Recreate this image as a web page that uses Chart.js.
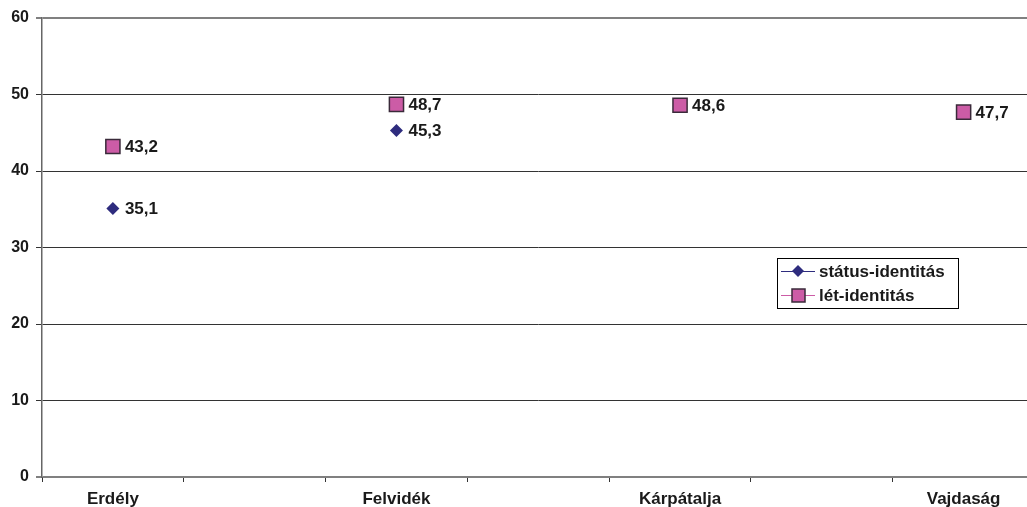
<!DOCTYPE html>
<html><head><meta charset="utf-8">
<script src="https://cdn.jsdelivr.net/npm/chart.js@4"></script>
<style>html,body{margin:0;padding:0;background:#fff;overflow:hidden}</style>
</head><body>
<canvas id="c" width="1046" height="507"></canvas>
<script>
const categories = ['Erdély', '', 'Felvidék', '', 'Kárpátalja', '', 'Vajdaság'];
const statusValues = [35.1, null, 45.3, null, null, null, null];
const letValues = [43.2, null, 48.7, null, 48.6, null, 47.7];
const yTicks = [0, 10, 20, 30, 40, 50, 60];
const seriesNames = ['státus-identitás', 'lét-identitás'];

const FONT = '"Liberation Sans", Arial, sans-serif';
const navy = '#2E2C7E';
const pink = '#CC5CA6';
const txt = '#1a1a1a';

const labelPlugin = {
  id: 'labels',
  afterDatasetsDraw(chart) {
    const ctx = chart.ctx;
    ctx.save();
    ctx.font = 'bold 17px ' + FONT;
    ctx.fillStyle = txt;
    ctx.textBaseline = 'middle';
    ctx.textAlign = 'left';
    chart.data.datasets.forEach((ds, di) => {
      const meta = chart.getDatasetMeta(di);
      meta.data.forEach((pt, i) => {
        const v = ds.data[i];
        if (v === null || v === undefined) return;
        ctx.fillText(v.toFixed(1).replace('.', ','), pt.x + 12, pt.y + 1);
      });
    });
    // legend
    const lx = 777, ly = 258, lw = 181, lh = 50;
    ctx.fillStyle = '#fff';
    ctx.fillRect(lx, ly, lw, lh);
    ctx.strokeStyle = '#000';
    ctx.lineWidth = 1;
    ctx.strokeRect(lx + 0.5, ly + 0.5, lw, lh);
    const rows = [ly + 13, ly + 37];
    ctx.strokeStyle = navy; ctx.lineWidth = 1;
    ctx.beginPath(); ctx.moveTo(781, rows[0] + 0.5); ctx.lineTo(815, rows[0] + 0.5); ctx.stroke();
    ctx.fillStyle = navy;
    ctx.beginPath();
    ctx.moveTo(798, rows[0] - 6); ctx.lineTo(804, rows[0]); ctx.lineTo(798, rows[0] + 6); ctx.lineTo(792, rows[0]); ctx.closePath(); ctx.fill();
    ctx.strokeStyle = pink;
    ctx.beginPath(); ctx.moveTo(781, rows[1] + 0.5); ctx.lineTo(815, rows[1] + 0.5); ctx.stroke();
    ctx.fillStyle = pink; ctx.fillRect(792, rows[1] - 6, 13, 13);
    ctx.strokeStyle = '#3a2a3a'; ctx.lineWidth = 1.5; ctx.strokeRect(792, rows[1] - 6, 13, 13);
    ctx.fillStyle = txt;
    ctx.font = 'bold 17px ' + FONT;
    ctx.fillText(seriesNames[0], 819, rows[0] + 1);
    ctx.fillText(seriesNames[1], 819, rows[1] + 1);
    ctx.restore();
  }
};

new Chart(document.getElementById('c'), {
  type: 'line',
  data: {
    labels: categories,
    datasets: [
      { label: seriesNames[0], data: statusValues, borderColor: navy, backgroundColor: navy,
        pointStyle: 'rectRot', pointRadius: 6.5, pointBorderWidth: 0, pointBorderColor: navy,
        borderWidth: 1, spanGaps: false },
      { label: seriesNames[1], data: letValues, borderColor: pink, backgroundColor: pink,
        pointStyle: 'rect', pointRadius: 10, pointBorderWidth: 1.5, pointBorderColor: '#3a2a3a',
        borderWidth: 1, spanGaps: false }
    ]
  },
  options: {
    responsive: false,
    animation: false,
    layout: { padding: { top: 18, right: 0, left: 0, bottom: 0 } },
    plugins: { legend: { display: false }, tooltip: { enabled: false }, title: { display: false } },
    scales: {
      x: {
        offset: true,
        grid: { offset: true, drawOnChartArea: false, drawTicks: true, tickLength: 5, color: '#333' },
        border: { display: false },
        ticks: { color: txt, font: { family: FONT, size: 17, weight: 'bold' }, padding: 7, maxRotation: 0, autoSkip: false },
        afterFit(s) { s.height = 30; }
      },
      y: {
        min: 0, max: 60,
        afterBuildTicks(s) { s.ticks = yTicks.map(v => ({ value: v })); },
        grid: {
          color: (c) => c.tick && (c.tick.value === 60 || c.tick.value === 0) ? '#808080' : '#333',
          lineWidth: (c) => c.tick && (c.tick.value === 60 || c.tick.value === 0) ? 2 : 1,
          tickLength: 6, drawTicks: true
        },
        border: { display: true, color: '#666', width: 1.5 },
        ticks: { color: txt, font: { family: FONT, size: 16, weight: 'bold' }, padding: 7 },
        afterFit(s) { s.width = 42; }
      }
    }
  },
  plugins: [labelPlugin]
});
</script>
</body></html>
